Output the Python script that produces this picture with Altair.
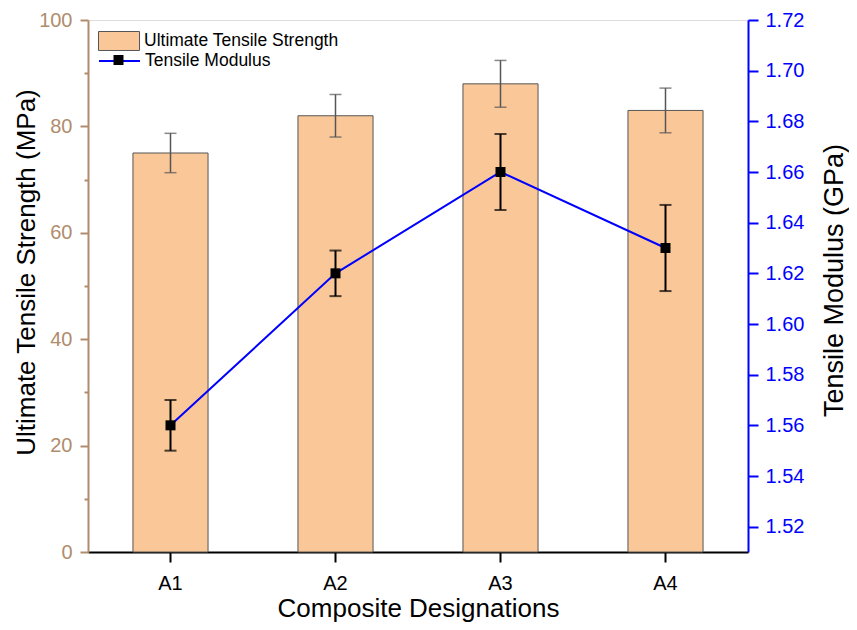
import altair as alt
import pandas as pd

categories = ["A1", "A2", "A3", "A4"]
uts = [75, 82, 88, 83]
uts_err = [3.7, 4.0, 4.4, 4.2]
modulus = [1.56, 1.62, 1.66, 1.63]
modulus_err = [0.010, 0.009, 0.015, 0.017]
left_ticks = [0, 10, 20, 30, 40, 50, 60, 70, 80, 90, 100]
right_ticks = [1.52, 1.53, 1.54, 1.55, 1.56, 1.57, 1.58, 1.59, 1.60, 1.61, 1.62,
               1.63, 1.64, 1.65, 1.66, 1.67, 1.68, 1.69, 1.70, 1.71, 1.72]
uts_label = "Ultimate Tensile Strength"
mod_label = "Tensile Modulus"
marker_label = "marker"

df = pd.DataFrame({
    "comp": categories,
    "uts": uts,
    "uts_lo": [u - e for u, e in zip(uts, uts_err)],
    "uts_hi": [u + e for u, e in zip(uts, uts_err)],
    "mod": modulus,
    "mod_lo": [m - e for m, e in zip(modulus, modulus_err)],
    "mod_hi": [m + e for m, e in zip(modulus, modulus_err)],
    "s1": uts_label,
    "s2": mod_label,
    "s3": marker_label,
})

FONT = "Liberation Sans"
TAN = "#B08C6C"
BLUE = "#0000FF"
BARFILL = "#FAC898"
GRAY = "#555555"

base = alt.Chart(df)

x_main = alt.X(
    "comp:N", sort=categories,
    scale=alt.Scale(paddingInner=0.545, paddingOuter=0.2725),
    axis=alt.Axis(
        title="Composite Designations", labelAngle=0, labelFont=FONT, labelFontSize=20,
        labelColor="black", labelPadding=11, tickSize=10, tickWidth=2, tickColor="black",
        domainColor="black", domainWidth=2, titleFont=FONT, titleFontSize=26,
        titleFontWeight="normal", titleColor="black", titleY=64, titleBaseline="alphabetic",
        grid=False,
    ),
)
x_plain = alt.X("comp:N", sort=categories)

left_axis = alt.Axis(
    title="Ultimate Tensile Strength (MPa)", values=left_ticks,
    labelExpr="datum.value % 20 === 0 ? datum.label : ''",
    tickSize={"condition": {"test": "datum.value % 20 === 0", "value": 8}, "value": 4},
    tickColor=TAN, tickWidth=2, domainColor=TAN, domainWidth=2,
    labelColor=TAN, labelFont=FONT, labelFontSize=20, labelPadding=8, labelFlush=False,
    labelOverlap=False,
    titleFont=FONT, titleFontSize=26, titleFontWeight="normal", titleColor="black",
    titleAngle=270, titleX=-54, titleY=252, titleAlign="center", titleBaseline="alphabetic",
    grid=False,
)

right_axis = alt.Axis(
    orient="right", title="Tensile Modulus (GPa)", values=right_ticks, format=".2f",
    labelExpr="round(datum.value * 100) % 2 === 0 ? datum.label : ''",
    tickSize={"condition": {"test": "round(datum.value * 100) % 2 === 0", "value": 10}, "value": 5},
    tickColor=BLUE, tickWidth=2, domainColor=BLUE, domainWidth=2,
    labelColor=BLUE, labelFont=FONT, labelFontSize=20, labelPadding=7, labelFlush=False,
    labelOverlap=False,
    titleFont=FONT, titleFontSize=27, titleFontWeight="normal", titleColor="black",
    titleAngle=270, titleX=94, titleY=260, titleAlign="center", titleBaseline="alphabetic",
    grid=False,
)

legA = alt.Legend(
    title=None, orient="none", legendX=10, legendY=0, padding=0,
    symbolType="M-1,-0.463H1V0.463H-1Z", symbolSize=1681,
    symbolStrokeColor=GRAY, symbolStrokeWidth=1, labelLimit=400,
    labelFont=FONT, labelFontSize=17.5, labelColor="black", labelOffset=4,
)
legB = alt.Legend(
    title=None, orient="none", legendX=10, legendY=19.5, padding=0,
    symbolType="M-1,0H1", symbolSize=1681, symbolStrokeWidth=2, labelLimit=400,
    labelFont=FONT, labelFontSize=17.5, labelColor="black", labelOffset=4,
)
legC = alt.Legend(
    title=None, orient="none", legendX=25.5, legendY=35, padding=0,
    symbolType="square", symbolSize=100, symbolFillColor="black", symbolStrokeWidth=0,
    labelExpr="''", labelFontSize=1,
)

bars = base.mark_bar(stroke=GRAY, strokeWidth=1).encode(
    x=x_main,
    y=alt.Y("uts:Q", scale=alt.Scale(domain=[0, 100], nice=False), axis=left_axis),
    fill=alt.Fill("s1:N", scale=alt.Scale(domain=[uts_label], range=[BARFILL]), legend=legA),
)
bar_err = base.mark_rule(color=GRAY, strokeWidth=1.5).encode(
    x=x_plain, y="uts_lo:Q", y2="uts_hi:Q"
)
bar_cap_hi = base.mark_tick(color=GRAY, thickness=1.5, size=12).encode(x=x_plain, y="uts_hi:Q")
bar_cap_lo = base.mark_tick(color=GRAY, thickness=1.5, size=12).encode(x=x_plain, y="uts_lo:Q")

left_group = alt.layer(bars, bar_err, bar_cap_hi, bar_cap_lo)

line = base.mark_line(color=BLUE, strokeWidth=2).encode(
    x=x_plain,
    y=alt.Y("mod:Q", scale=alt.Scale(domain=[1.51, 1.72], nice=False, zero=False), axis=right_axis),
    stroke=alt.Stroke("s2:N", scale=alt.Scale(domain=[mod_label], range=[BLUE]), legend=legB),
)
mod_err = base.mark_rule(color="black", strokeWidth=2).encode(
    x=x_plain, y="mod_lo:Q", y2="mod_hi:Q"
)
mod_cap_hi = base.mark_tick(color="black", thickness=2, size=12).encode(x=x_plain, y="mod_hi:Q")
mod_cap_lo = base.mark_tick(color="black", thickness=2, size=12).encode(x=x_plain, y="mod_lo:Q")
pts = base.mark_point(filled=True, size=100, opacity=1, color="black", strokeWidth=0).encode(
    x=x_plain, y="mod:Q",
    shape=alt.Shape("s3:N", scale=alt.Scale(domain=[marker_label], range=["square"]), legend=legC),
)

right_group = alt.layer(line, mod_err, mod_cap_hi, mod_cap_lo, pts)

chart = alt.layer(left_group, right_group).resolve_scale(y="independent").properties(
    width=660, height=532,
    padding={"left": 80, "top": 12, "right": 101, "bottom": 70},
    autosize=alt.AutoSizeParams(type="none"),
).configure_view(strokeWidth=0).configure(background="white")

chart.save("out.html", embed_options={"renderer": "svg", "actions": False})
